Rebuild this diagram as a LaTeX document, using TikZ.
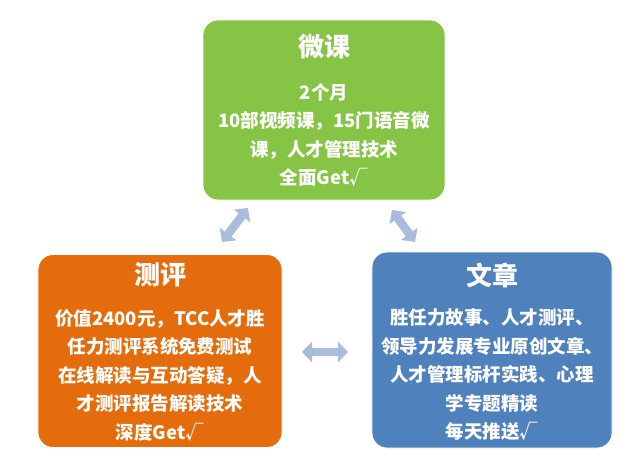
\documentclass[tikz,border=0pt]{standalone}
\usepackage{fontspec}
\setmainfont{Noto Sans CJK SC}
\usetikzlibrary{arrows.meta}
\definecolor{cgreen}{RGB}{134,196,70}
\definecolor{corange}{RGB}{228,108,12}
\definecolor{cblue}{RGB}{79,129,189}
\definecolor{carrow}{RGB}{170,188,220}
\begin{document}
\begin{tikzpicture}[x=1pt,y=-1pt,
  panel/.style={rounded corners=15pt, draw=white, line width=0.8pt, inner sep=0pt},
  title/.style={text=white, inner sep=0pt, font=\bfseries\fontsize{26}{30}\selectfont},
  body/.style={text=white, inner sep=0pt, align=center, font=\bfseries\fontsize{18.5}{28.5}\selectfont},
  link/.style={draw=carrow, line width=8.5pt, shorten <=0pt, shorten >=0pt,
    {Triangle[length=10pt, width=20pt]}-{Triangle[length=10pt, width=20pt]}}]
\useasboundingbox[fill=white] (0,0) rectangle (640,474);
% panels
\node[panel, fill=cgreen, minimum width=242pt, minimum height=180pt] (weike) at (324,110) {};
\node[panel, fill=corange, minimum width=244pt, minimum height=193pt] (ceping) at (160,351) {};
\node[panel, fill=cblue, minimum width=240pt, minimum height=196pt] (wenzhang) at (492,350) {};
% titles
\node[title] (t1) at (324,47) {微课};
\node[title] (t2) at (160,275) {测评};
\node[title] (t3) at (492,275) {文章};
% bodies
\node[body] (b1) at (324,135) {2个月\\10部视频课，15门语音微\\课，人才管理技术\\全面Get√};
\node[body] (b2) at (160,375) {价值2400元，TCC人才胜\\任力测评系统免费测试\\在线解读与互动答疑，人\\才测评报告解读技术\\深度Get√};
\node[body] (b3) at (492,375) {胜任力故事、人才测评、\\领导力发展专业原创文章、\\人才管理标杆实践、心理\\学专题精读\\每天推送√};
% double arrow end points
\coordinate (a1s) at (222,242);
\coordinate (a1e) at (248,208);
\coordinate (a2s) at (392,210);
\coordinate (a2e) at (415,242);
\coordinate (a3s) at (302,352);
\coordinate (a3e) at (348,352);
\draw[link] (a1s) -- (a1e);
\draw[link] (a2s) -- (a2e);
\draw[link] (a3s) -- (a3e);
\end{tikzpicture}
\end{document}
